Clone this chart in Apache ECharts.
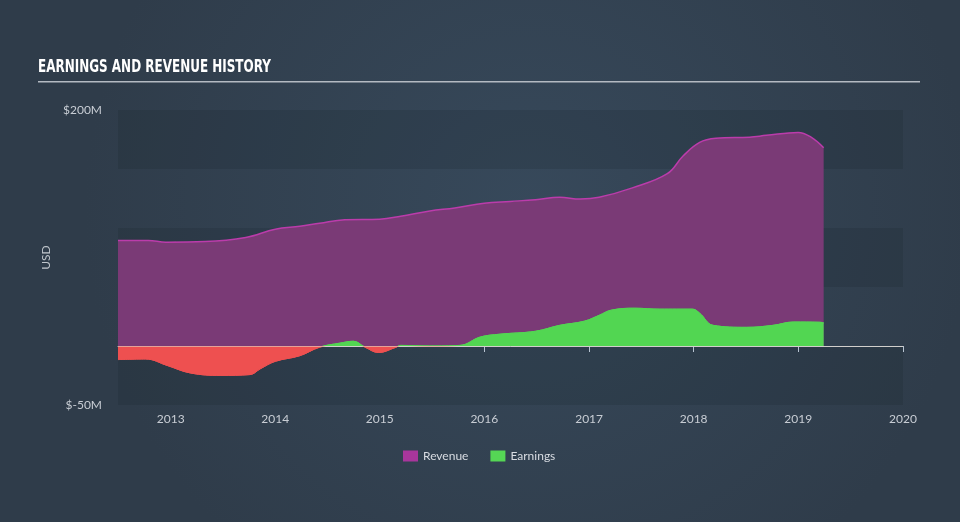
<!DOCTYPE html>
<html>
<head>
<meta charset="utf-8">
<script src="https://cdn.jsdelivr.net/npm/echarts@6/dist/echarts.min.js"></script>
<style>
html,body{margin:0;padding:0;background:#33424f;}
#chart{width:960px;height:522px;}
</style>
</head>
<body>
<div id="chart"></div>
<script>
// ---- data (values in $M) ----
const revenueDates = ['2012-07-01','2012-10-15','2012-12-15','2013-05-01','2013-09-20','2014-01-01','2014-03-28','2014-06-05','2014-09-01','2015-01-01','2015-03-15','2015-06-25','2015-09-20','2016-01-01','2016-04-01','2016-06-28','2016-09-20','2016-12-01','2017-02-05','2017-06-01','2017-10-01','2017-11-25','2018-01-22','2018-03-20','2018-07-15','2018-09-12','2019-01-01','2019-02-15','2019-03-31'];
const revenue = [89.5,89.5,88,88.5,92,99,101.5,104,107,107.5,110,114.5,117,121,122.5,124,126,124.5,126,134,146,161,172.5,176,177,178.5,181,177,168];

const earningsDates = ['2012-07-01','2012-10-05','2012-12-20','2013-03-10','2013-06-25','2013-10-05','2013-11-10','2014-01-01','2014-03-28','2014-06-05','2014-08-15','2014-10-01','2014-11-10','2014-12-28','2015-02-25','2015-03-15','2015-06-25','2015-10-08','2015-12-18','2016-02-25','2016-06-28','2016-09-20','2016-12-15','2017-02-05','2017-03-20','2017-06-10','2017-09-05','2017-12-28','2018-01-22','2018-03-10','2018-07-05','2018-10-05','2018-12-15','2019-03-18','2019-03-31'];
const earnings = [-11.5,-11,-16.5,-22.8,-24.9,-24.2,-19.3,-13,-8.2,-1,2.4,4,-0.9,-5.5,-1.2,0.5,0,0.5,7.6,10,12.5,17.5,21,26,30.4,32,31.2,31.2,27.8,17.5,15.8,17.5,20.3,20.1,19.6];

const seriesNames = ['Revenue','Earnings'];
const yTickLabels = {'200':'$200M','-50':'$-50M'};
const xRange = ['2012-07-01','2020-01-02'];
const titleText = 'EARNINGS AND REVENUE HISTORY';

const GREEN = '#52d652', RED = '#ee5050';
const chart = echarts.init(document.getElementById('chart'), null, {renderer:'canvas'});
const YEAR = 365.25*24*3600*1000;
const FONT = 'Lato, "Noto Sans", sans-serif';

chart.setOption({
  animation:false,
  backgroundColor:{type:'radial',x:0.55,y:0.4,r:0.85,colorStops:[{offset:0,color:'#37495b'},{offset:1,color:'#2f3c4a'}]},
  graphic:[
    {type:'text',left:38,top:58,scaleX:0.74,style:{text:titleText,fill:'#ffffff',font:'bold 18px "Liberation Sans Narrow", "DejaVu Sans Condensed", sans-serif'}},
    {type:'rect',shape:{x:38,y:81,width:882,height:1.5},style:{fill:'#b4bac2'}}
  ],
  grid:{left:118,right:57,top:110,bottom:117},
  legend:{
    left:398,top:445,icon:'rect',itemWidth:15,itemHeight:11,itemGap:22,
    textStyle:{color:'#d8dce2',fontSize:12,fontFamily:FONT},
    data:[{name:seriesNames[0],itemStyle:{color:'#a8369c'}},{name:seriesNames[1],itemStyle:{color:'#55d655'}}]
  },
  xAxis:{
    type:'time',min:xRange[0],max:xRange[1],minInterval:YEAR,maxInterval:YEAR,
    axisLine:{lineStyle:{color:'#b8c4d2',width:1}},
    axisTick:{show:true,length:6,lineStyle:{color:'#b8c4d2'}},
    splitLine:{show:false},
    axisLabel:{formatter:'{yyyy}',color:'#c8cdd4',fontSize:12,margin:8,fontFamily:FONT,fontWeight:'normal',showMaxLabel:true}
  },
  yAxis:{
    type:'value',min:-50,max:200,interval:50,
    name:'USD',nameLocation:'middle',nameGap:50,nameRotate:90,
    nameTextStyle:{color:'#c0c6cc',fontSize:12,fontFamily:FONT},
    axisLine:{show:false},axisTick:{show:false},splitLine:{show:false},
    splitArea:{show:true,areaStyle:{color:['rgba(20,30,40,0.16)','rgba(255,255,255,0.0)']}},
    axisLabel:{color:'#c8cdd4',fontSize:12,margin:16,fontFamily:FONT,padding:[0,0,6,0],
      formatter:function(v){return yTickLabels[String(v)]||'';}}
  },
  series:[
    {name:seriesNames[0],type:'line',smooth:0.4,symbol:'none',z:2,
     data:revenueDates.map((d,i)=>[d,revenue[i]]),
     lineStyle:{color:'#bb3cab',width:1.5},
     itemStyle:{color:'#a8369c'},
     areaStyle:{color:'#7a3a76',opacity:1}
    },
    {name:seriesNames[1],type:'line',smooth:0.4,symbol:'none',z:3,
     data:earningsDates.map((d,i)=>[d,earnings[i]]),
     lineStyle:{width:1,color:GREEN},
     itemStyle:{color:'#55d655'},
     areaStyle:{opacity:1,color:GREEN},
     markLine:{silent:true,symbol:'none',label:{show:false},z:5,
       lineStyle:{color:'rgba(225,215,200,0.6)',width:1,type:'solid'},
       data:[{yAxis:0}]}
    }
  ]
});

// colour earnings green above zero, red below, split at the axis's zero pixel
const zeroY = chart.convertToPixel({yAxisIndex:0}, 0);
const H = chart.getHeight();
const off = zeroY / H;
const grad = () => ({type:'linear',x:0,y:0,x2:0,y2:H,global:true,
  colorStops:[{offset:0,color:GREEN},{offset:off,color:GREEN},{offset:off,color:RED},{offset:1,color:RED}]});
chart.setOption({series:[{},{lineStyle:{color:grad()},areaStyle:{color:grad()}}]});
</script>
</body>
</html>
